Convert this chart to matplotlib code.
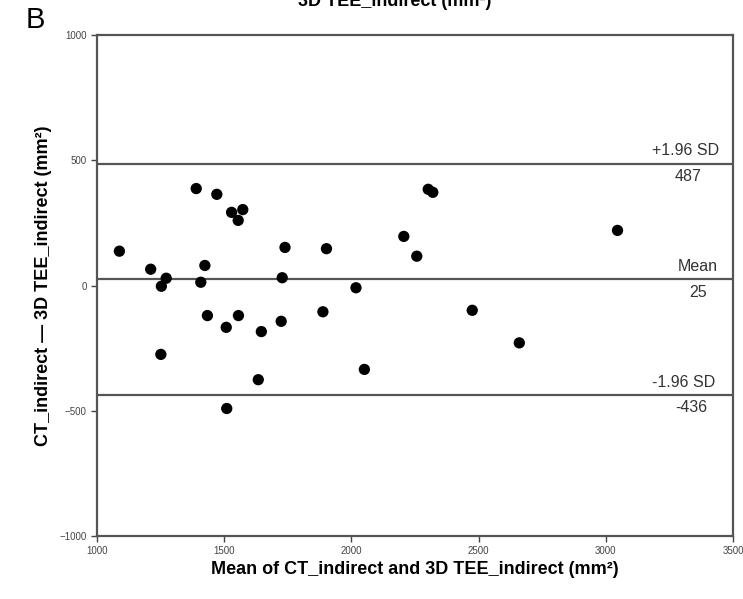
import matplotlib.pyplot as plt

plt.rcParams['font.family'] = ['Liberation Sans', 'DejaVu Sans']

# mean of the two methods (mm2) and their difference (mm2)
mean_vals = [1088, 1211, 1272, 1253, 1390, 1471, 1529, 1573, 1555, 1424,
             1408, 1739, 1728, 1902, 2018, 1434, 1556, 1508, 1646, 1724,
             1888, 1251, 1634, 2051, 1510, 2302, 2320, 2206, 2257, 3046,
             2475, 2660]
diff_vals = [137, 65, 29, -3, 387, 364, 292, 303, 260, 80,
             13, 152, 31, 147, -9, -120, -120, -167, -184, -143,
             -105, -275, -376, -335, -491, 384, 372, 196, 117, 220,
             -99, -229]

bias = 25
upper_loa = 487
lower_loa = -436

x_ticks = [1000, 1500, 2000, 2500, 3000, 3500]
y_ticks = [1000, 500, 0, -500, -1000]

fig = plt.figure(figsize=(7.43, 5.99), dpi=100)
ax = fig.add_axes([97 / 743, 63 / 599, 636 / 743, 501 / 599])

line_col = '#555555'
for v in (upper_loa, bias, lower_loa):
    ax.axhline(v, color=line_col, lw=1.6, zorder=1)

ax.scatter(mean_vals, diff_vals, s=66, color='black', edgecolors='none', zorder=3)

ax.set_xlim(1000, 3500)
ax.set_ylim(-1000, 1000)
ax.set_xticks(x_ticks)
ax.set_yticks(y_ticks)
ax.tick_params(labelsize=7, colors='#444444', length=4, width=1, direction='out')
for s in ax.spines.values():
    s.set_color(line_col)
    s.set_linewidth(1.6)

# line labels
lab_kw = dict(fontsize=11.5, color='#333333')
ax.text(3445, upper_loa + 20, '+1.96 SD', ha='right', va='bottom', **lab_kw)
ax.text(3378, upper_loa - 22, str(upper_loa), ha='right', va='top', **lab_kw)
ax.text(3440, bias + 20, 'Mean', ha='right', va='bottom', **lab_kw)
ax.text(3398, bias - 22, str(bias), ha='right', va='top', **lab_kw)
ax.text(3430, lower_loa + 20, '-1.96 SD', ha='right', va='bottom', **lab_kw)
ax.text(3398, lower_loa - 22, str(lower_loa), ha='right', va='top', **lab_kw)

ax.set_xlabel('Mean of CT_indirect and 3D TEE_indirect (mm\u00b2)',
              fontsize=13, fontweight='bold', labelpad=3)
ax.set_ylabel('CT_indirect \u2014 3D TEE_indirect (mm\u00b2)',
              fontsize=13, fontweight='bold', labelpad=5)

# panel letter and the clipped title from the panel above
fig.text(35 / 743, 1 - 20 / 599, 'B', fontsize=21, ha='center', va='center')
fig.text(395 / 743, 1 - 2 / 599, '3D TEE_indirect (mm\u00b2)', fontsize=13,
         fontweight='bold', ha='center', va='center')

fig.savefig('out.png', dpi=100)
